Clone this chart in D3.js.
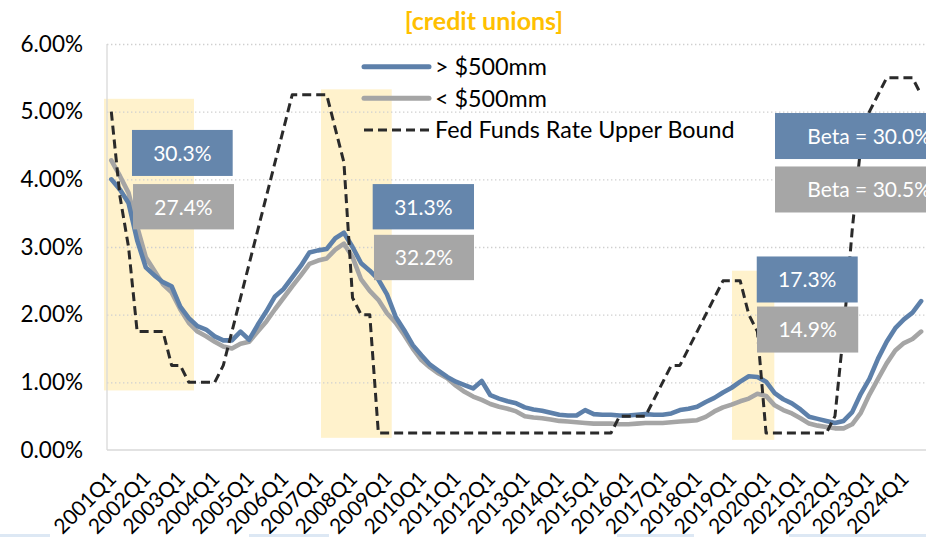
<!DOCTYPE html>
<html><head><meta charset="utf-8">
<script src="https://cdn.jsdelivr.net/npm/d3@7"></script>
<style>
body{margin:0;background:#fff;}
svg{display:block;font-family:Lato,"Open Sans",sans-serif;}
</style>
</head><body>
<svg id="c" width="926" height="537"></svg>
<script>
// ---------- DATA ----------
const categories = [];
for (let yr = 2001; yr <= 2024; yr++) for (let q = 1; q <= 4; q++) {
  if (yr === 2024 && q === 4) continue;
  categories.push(yr + "Q" + q);
}
const xTickLabels = categories.filter(c => c.endsWith("Q1"));
const yTicks = [0, 1, 2, 3, 4, 5, 6];

const over500 = [
  4.00,3.85,3.65,3.10, 2.70,2.58,2.48,2.42, 2.12,1.95,1.83,1.78, 1.68,1.62,1.62,1.75,
  1.63,1.85,2.05,2.27, 2.38,2.55,2.72,2.92, 2.95,2.97,3.13,3.21, 3.00,2.76,2.65,2.52,
  2.30,1.97,1.77,1.55, 1.40,1.26,1.17,1.08, 1.01,0.96,0.91,1.02, 0.81,0.76,0.72,0.69,
  0.63,0.60,0.58,0.55, 0.52,0.51,0.51,0.59, 0.53,0.52,0.52,0.51, 0.51,0.52,0.53,0.52,
  0.52,0.54,0.59,0.61, 0.64,0.71,0.77,0.85, 0.92,1.01,1.09,1.08, 1.01,0.84,0.75,0.69,
  0.60,0.49,0.46,0.43, 0.40,0.43,0.56,0.83, 1.05,1.35,1.60,1.80, 1.93,2.03,2.20
];
const under500 = [
  4.28,4.05,3.80,3.30, 2.85,2.65,2.45,2.33, 2.08,1.88,1.75,1.68, 1.60,1.53,1.50,1.57,
  1.60,1.75,1.90,2.08, 2.25,2.42,2.58,2.75, 2.80,2.83,2.96,3.05, 2.85,2.52,2.35,2.22,
  2.02,1.88,1.70,1.50, 1.33,1.22,1.13,1.06, 0.95,0.86,0.79,0.74, 0.68,0.64,0.61,0.57,
  0.50,0.48,0.47,0.45, 0.43,0.42,0.41,0.40, 0.39,0.39,0.39,0.38, 0.38,0.39,0.40,0.40,
  0.40,0.41,0.42,0.43, 0.44,0.49,0.57,0.63, 0.67,0.72,0.76,0.83, 0.80,0.66,0.59,0.54,
  0.47,0.39,0.36,0.34, 0.32,0.32,0.38,0.55, 0.82,1.05,1.28,1.47, 1.58,1.64,1.75
];
const fedFunds = [
  5.00,3.75,3.00,1.75, 1.75,1.75,1.75,1.25, 1.25,1.00,1.00,1.00, 1.00,1.25,1.75,2.25,
  2.75,3.25,3.75,4.25, 4.75,5.25,5.25,5.25, 5.25,5.25,4.75,4.25, 2.25,2.00,2.00,0.25,
  0.25,0.25,0.25,0.25, 0.25,0.25,0.25,0.25, 0.25,0.25,0.25,0.25, 0.25,0.25,0.25,0.25,
  0.25,0.25,0.25,0.25, 0.25,0.25,0.25,0.25, 0.25,0.25,0.25,0.50, 0.50,0.50,0.50,0.75,
  1.00,1.25,1.25,1.50, 1.75,2.00,2.25,2.50, 2.50,2.50,2.00,1.75, 0.25,0.25,0.25,0.25,
  0.25,0.25,0.25,0.25, 0.50,1.75,3.25,4.50, 5.00,5.25,5.50,5.50, 5.50,5.50,5.25
];
const seriesNames = ["> $500mm", "< $500mm", "Fed Funds Rate Upper Bound"];
const chartTitle = "[credit unions]";

// shaded periods: [from index, to index, top %, bottom %]
const shades = [[-0.85, 9.6, 5.19, 0.88], [24.34, 32.55, 5.33, 0.18], [72.05, 76.96, 2.65, 0.15]];
// annotation boxes: [from index, to index, top %, bottom %, text, kind]
const boxes = [
  [2.40, 14.09, 4.73, 4.05, "30.3%", "b"],
  [2.52, 14.24, 3.93, 3.26, "27.4%", "g"],
  [30.34, 42.10, 3.93, 3.26, "31.3%", "b"],
  [30.49, 42.10, 3.18, 2.51, "32.2%", "g"],
  [74.92, 86.64, 2.86, 2.18, "17.3%", "b"],
  [74.95, 86.70, 2.12, 1.44, "14.9%", "g"],
  [77.04, 98.90, 4.98, 4.30, "Beta = 30.0%", "b"],
  [77.04, 98.90, 4.19, 3.51, "Beta = 30.5%", "g"]
];

// ---------- STYLE ----------
const BLUE = "#5d80aa", BLUEBOX = "#6586ac", GRAY = "#a5a5a5", GRAYBOX = "#a6a6a6", DARK = "#2a2a2a";
const W = 926, H = 537;
const plotLeft = 107, bandW = 8.615, plotTop = 44, plotBottom = 450;

const svg = d3.select("#c");

const x = d3.scaleBand().domain(categories).range([plotLeft, plotLeft + categories.length * bandW]).padding(0);
const xc = c => x(c) + x.bandwidth() / 2;
const xi = d3.scaleLinear().domain([0, categories.length - 1])
  .range([xc(categories[0]), xc(categories[categories.length - 1])]);
const y = d3.scaleLinear().domain([0, 6]).range([plotBottom, plotTop]);

// shaded rects
svg.append("g").selectAll("rect").data(shades).join("rect")
  .attr("x", d => xi(d[0])).attr("width", d => xi(d[1]) - xi(d[0]))
  .attr("y", d => y(d[2])).attr("height", d => y(d[3]) - y(d[2]))
  .attr("fill", "#fff2cc");

// gridlines
const grid = svg.append("g").attr("transform", `translate(${plotLeft},0)`)
  .call(d3.axisLeft(y).tickValues(yTicks.filter(v => v > 0)).tickSize(-(W - plotLeft)).tickFormat(""));
grid.select(".domain").remove();
grid.selectAll("line").attr("stroke", "#cfcfcf").attr("stroke-width", 1.3).attr("stroke-dasharray", "1.4,2.6");

// axis lines
svg.append("line").attr("x1", plotLeft).attr("x2", plotLeft).attr("y1", y(6)).attr("y2", y(0))
  .attr("stroke", "#d9d9d9").attr("stroke-width", 1.3);
svg.append("line").attr("x1", plotLeft).attr("x2", W).attr("y1", y(0)).attr("y2", y(0))
  .attr("stroke", "#d9d9d9").attr("stroke-width", 1.6);

// y axis labels
const ya = svg.append("g").attr("transform", `translate(${plotLeft},0)`)
  .call(d3.axisLeft(y).tickValues(yTicks).tickSize(0).tickPadding(24).tickFormat(d => d.toFixed(2) + "%"));
ya.select(".domain").remove();
ya.selectAll("text").attr("font-size", 22.5).attr("fill", "#000").attr("font-family", "Lato");

// x axis labels
const xa = svg.append("g").attr("transform", `translate(0,${plotBottom})`)
  .call(d3.axisBottom(x).tickValues(xTickLabels).tickSize(0));
xa.select(".domain").remove();
xa.selectAll("text").attr("y", 0).attr("dy", "0.35em").attr("text-anchor", "end")
  .attr("transform", "translate(1,25) rotate(-45)")
  .attr("font-size", 21).attr("fill", "#000").attr("font-family", "Lato");

// lines
const line = d3.line().x((d, i) => xc(categories[i])).y(d => y(d));
svg.append("path").datum(under500).attr("d", line).attr("fill", "none")
  .attr("stroke", GRAY).attr("stroke-width", 4.6).attr("stroke-linejoin", "round").attr("stroke-linecap", "round");
svg.append("path").datum(over500).attr("d", line).attr("fill", "none")
  .attr("stroke", BLUE).attr("stroke-width", 4.6).attr("stroke-linejoin", "round").attr("stroke-linecap", "round");
svg.append("path").datum(fedFunds).attr("d", line).attr("fill", "none")
  .attr("stroke", DARK).attr("stroke-width", 3).attr("stroke-dasharray", "9,5").attr("stroke-linejoin", "round");

// boxes
const bg = svg.append("g").selectAll("g").data(boxes).join("g");
bg.append("rect")
  .attr("x", d => xi(d[0])).attr("width", d => xi(d[1]) - xi(d[0]))
  .attr("y", d => y(d[2])).attr("height", d => y(d[3]) - y(d[2]))
  .attr("fill", d => d[5] === "b" ? BLUEBOX : GRAYBOX);
bg.append("text")
  .attr("x", d => (xi(d[0]) + xi(d[1])) / 2).attr("y", d => (y(d[2]) + y(d[3])) / 2)
  .attr("dy", "0.37em").attr("text-anchor", "middle").attr("fill", "#fff")
  .attr("font-size", 21).text(d => d[4]);

// legend
const legend = svg.append("g");
const legY = [66.7, 98.3, 130];
const legStyles = [
  {stroke: BLUE, w: 5, dash: null, cap: "round"},
  {stroke: GRAY, w: 5, dash: null, cap: "round"},
  {stroke: DARK, w: 3, dash: "9,5", cap: "butt"}
];
seriesNames.forEach((n, i) => {
  legend.append("line").attr("x1", 364).attr("x2", 429).attr("y1", legY[i]).attr("y2", legY[i])
    .attr("stroke", legStyles[i].stroke).attr("stroke-width", legStyles[i].w)
    .attr("stroke-dasharray", legStyles[i].dash).attr("stroke-linecap", legStyles[i].cap);
  legend.append("text").attr("x", 435).attr("y", legY[i]).attr("dy", "0.36em")
    .attr("font-size", 23.3).attr("fill", "#000").text(n);
});

// title
svg.append("text").attr("x", 484).attr("y", 30).attr("text-anchor", "middle")
  .attr("font-size", 25).attr("font-weight", "bold").attr("fill", "#ffc000").text(chartTitle);

// faint bottom strips (cropped neighbours)
svg.append("g").selectAll("rect").data([[0, 50], [249, 329], [617, 694], [789, 926]]).join("rect")
  .attr("x", d => d[0]).attr("width", d => d[1] - d[0]).attr("y", 534).attr("height", 3)
  .attr("fill", "#dde8f4");
</script>
</body></html>
